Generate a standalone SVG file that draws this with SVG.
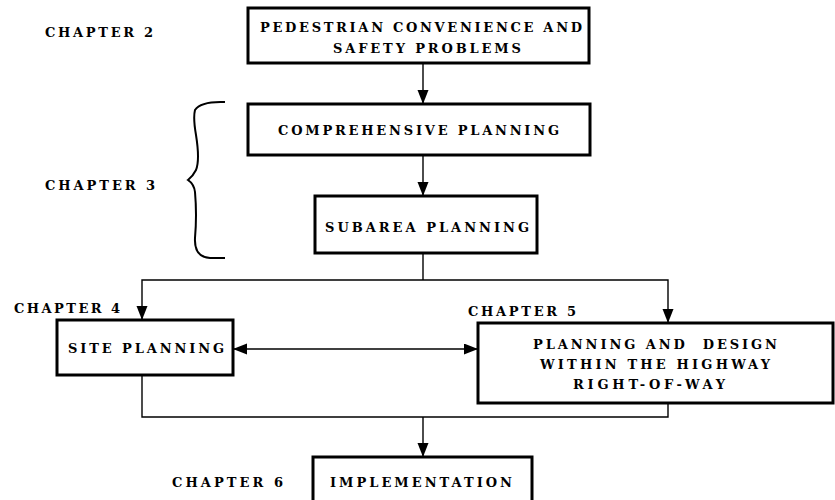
<svg xmlns="http://www.w3.org/2000/svg" width="835" height="500" viewBox="0 0 835 500">
<defs>
<marker id="ah" markerUnits="userSpaceOnUse" markerWidth="16" markerHeight="12" refX="14" refY="5.5" orient="auto-start-reverse">
<path d="M0,0 L14,5.5 L0,11 Z" fill="#000"/>
</marker>
<style>
.box{fill:#fff;stroke:#000;stroke-width:3}
.t{font-family:"DejaVu Serif","Liberation Serif",serif;font-weight:bold;font-size:13px;fill:#000}
.c{fill:none;stroke:#000;stroke-width:1.4}
</style>
</defs>
<rect width="835" height="500" fill="#fff"/>
<g id="labels">
<text class="t" x="45" y="37" textLength="108" lengthAdjust="spacing">CHAPTER 2</text>
<text class="t" x="45" y="190" textLength="110" lengthAdjust="spacing">CHAPTER 3</text>
<text class="t" x="14" y="313" textLength="106" lengthAdjust="spacing">CHAPTER 4</text>
<text class="t" x="468" y="316" textLength="108" lengthAdjust="spacing">CHAPTER 5</text>
<text class="t" x="172" y="487" textLength="111" lengthAdjust="spacing">CHAPTER 6</text>
<path d="M225,102 Q201,101 195,110 Q193,118 196,135 Q200,160 196,170 Q193,176 188,180 Q194,184 195,192 Q197,215 195,238 Q194,257 210,258 L225,258" fill="none" stroke="#000" stroke-width="2"/>
</g>
<g id="connectors">
<line class="c" x1="423" y1="63" x2="423" y2="104" marker-end="url(#ah)"/>
<line class="c" x1="423" y1="155" x2="423" y2="196" marker-end="url(#ah)"/>
<polyline class="c" points="423,253 423,280"/>
<polyline class="c" points="142,320 142,280 668,280 668,323" marker-start="url(#ah)" marker-end="url(#ah)"/>
<line class="c" x1="233" y1="349" x2="478" y2="349" marker-start="url(#ah)" marker-end="url(#ah)"/>
<polyline class="c" points="142,375 142,417 668,417 668,403"/>
<line class="c" x1="423" y1="417" x2="423" y2="457" marker-end="url(#ah)"/>
</g>
<g id="n1">
<rect class="box" x="248" y="8" width="341" height="55"/>
<text class="t" x="260" y="32" textLength="322" lengthAdjust="spacing">PEDESTRIAN CONVENIENCE AND</text>
<text class="t" x="333" y="53" textLength="188" lengthAdjust="spacing">SAFETY PROBLEMS</text>
</g>
<g id="n2">
<rect class="box" x="248" y="104" width="342" height="51"/>
<text class="t" x="278" y="135" textLength="281" lengthAdjust="spacing">COMPREHENSIVE PLANNING</text>
</g>
<g id="n3">
<rect class="box" x="315" y="196" width="222" height="57"/>
<text class="t" x="325" y="232" textLength="204" lengthAdjust="spacing">SUBAREA PLANNING</text>
</g>
<g id="n4">
<rect class="box" x="57" y="320" width="176" height="55"/>
<text class="t" x="68" y="353" textLength="156" lengthAdjust="spacing">SITE PLANNING</text>
</g>
<g id="n5">
<rect class="box" x="478" y="323" width="355" height="80"/>
<text class="t" x="533" y="349" textLength="244" lengthAdjust="spacing" xml:space="preserve">PLANNING AND  DESIGN</text>
<text class="t" x="540" y="369" textLength="230" lengthAdjust="spacing">WITHIN THE HIGHWAY</text>
<text class="t" x="573" y="389" textLength="152" lengthAdjust="spacing">RIGHT-OF-WAY</text>
</g>
<g id="n6">
<rect class="box" x="313" y="457" width="219" height="46"/>
<text class="t" x="330" y="487" textLength="182" lengthAdjust="spacing">IMPLEMENTATION</text>
</g>
</svg>
